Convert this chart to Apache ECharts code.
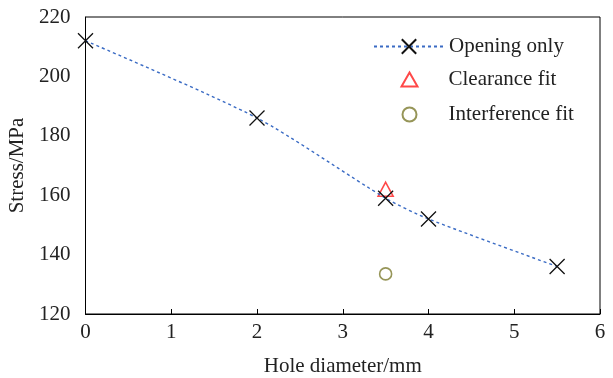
<!DOCTYPE html>
<html>
<head>
<meta charset="utf-8">
<script src="https://cdn.jsdelivr.net/npm/echarts@6/dist/echarts.min.js"></script>
<style>html,body{margin:0;padding:0;background:#fff;}#c{width:613px;height:378px;}</style>
</head>
<body>
<div id="c"></div>
<script>
const openingX = [0, 2, 3.5, 4, 5.5];
const openingY = [212, 186, 159, 152, 136];
const clearanceX = [3.5];
const clearanceY = [162];
const interferenceX = [3.5];
const interferenceY = [133.5];
const xTicks = [0, 1, 2, 3, 4, 5, 6];
const yTicks = [120, 140, 160, 180, 200, 220];

const font = 'Liberation Serif';
const fs = 21;
const txt = {fontFamily: font, fontSize: fs, color: '#222'};
const crossPath = 'path://M0,0L10,10M10,0L0,10';
const chart = echarts.init(document.getElementById('c'));
chart.setOption({
  animation: false,
  backgroundColor: '#fff',
  grid: {left: 85.5, right: 13, top: 17, bottom: 64, show: true, borderColor: '#000', borderWidth: 1,
         containLabel: false, outerBoundsMode: 'none'},
  legend: [
    {left: 368, top: 31, itemWidth: 70, itemHeight: 18, textStyle: txt, data: ['Opening only']},
    {left: 394, top: 64, itemWidth: 16, itemHeight: 14,
     textStyle: Object.assign({padding: [0, 0, 0, 26]}, txt), data: ['Clearance fit']},
    {left: 395, top: 99, itemWidth: 14, itemHeight: 14,
     textStyle: Object.assign({padding: [0, 0, 0, 27]}, txt), data: ['Interference fit']}
  ],
  xAxis: {
    type: 'value', min: 0, max: 6, interval: 1,
    name: 'Hole diameter/mm', nameLocation: 'middle', nameGap: 42,
    nameTextStyle: txt,
    axisLine: {lineStyle: {color: '#000', width: 1}},
    axisTick: {inside: true, length: 5, lineStyle: {color: '#000'}},
    axisLabel: Object.assign({margin: 8, formatter: v => xTicks.includes(v) ? String(v) : ''}, txt),
    splitLine: {show: false}
  },
  yAxis: {
    type: 'value', min: 120, max: 220, interval: 20,
    name: 'Stress/MPa', nameLocation: 'middle', nameGap: 58,
    nameTextStyle: txt,
    axisLine: {show: true, lineStyle: {color: '#000', width: 1}},
    axisTick: {show: false},
    axisLabel: Object.assign({margin: 15, formatter: v => yTicks.includes(v) ? String(v) : ''}, txt),
    splitLine: {show: false}
  },
  series: [
    {
      name: 'Opening only', type: 'line', smooth: 0.25,
      data: openingX.map((x, i) => [x, openingY[i]]),
      symbol: crossPath, symbolSize: 15,
      itemStyle: {color: 'none', borderColor: '#111', borderWidth: 1.3},
      lineStyle: {color: '#3a6bc4', width: 1.4, type: [3, 3]}
    },
    {
      name: 'Clearance fit', type: 'scatter',
      data: clearanceX.map((x, i) => [x, clearanceY[i]]),
      symbol: 'triangle', symbolSize: [15, 14],
      itemStyle: {color: 'none', borderColor: '#ff1a1a', borderWidth: 1.6}
    },
    {
      name: 'Interference fit', type: 'scatter',
      data: interferenceX.map((x, i) => [x, interferenceY[i]]),
      symbol: 'circle', symbolSize: 12,
      itemStyle: {color: 'none', borderColor: '#7c7a2e', borderWidth: 1.6}
    }
  ]
});
</script>
</body>
</html>
